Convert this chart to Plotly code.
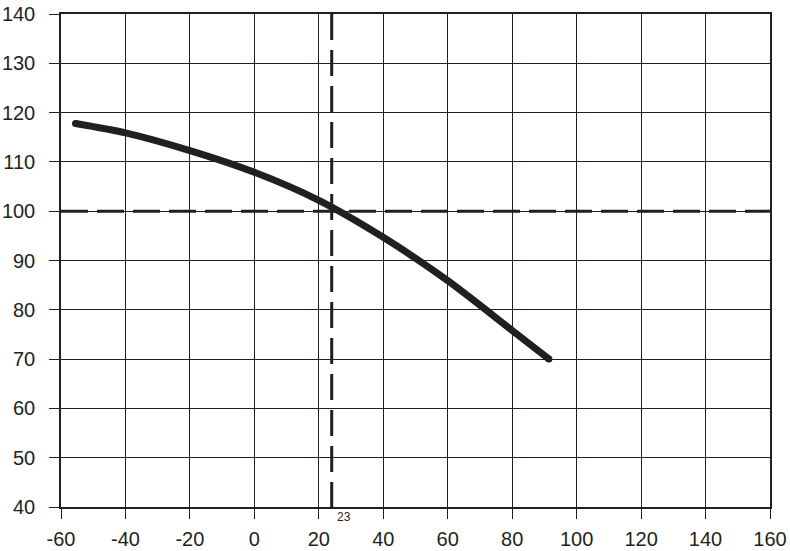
import plotly.graph_objects as go

# Curve
curve_x = [-55.5, -40, -20, 0, 20, 40, 60, 80, 91.4]
curve_y = [117.8, 115.9, 112.3, 107.9, 102.2, 94.7, 85.9, 75.8, 70.0]

# Reference lines
ref_x = 24
ref_y = 100
ref_label = "23"

x_ticks = [-60, -40, -20, 0, 20, 40, 60, 80, 100, 120, 140, 160]
y_ticks = [40, 50, 60, 70, 80, 90, 100, 110, 120, 130, 140]

INK = "#231f20"
FONT = "Liberation Sans, Arial, sans-serif"

fig = go.Figure()

fig.add_trace(go.Scatter(
    x=curve_x,
    y=curve_y,
    mode="lines",
    line=dict(color=INK, width=7, shape="spline", smoothing=0.8),
    hoverinfo="skip",
    showlegend=False,
))
# round caps at the ends
fig.add_trace(go.Scatter(
    x=[curve_x[0], curve_x[-1]],
    y=[curve_y[0], curve_y[-1]],
    mode="markers",
    marker=dict(color=INK, size=7),
    hoverinfo="skip",
    showlegend=False,
))

# dashed reference lines (vertical drawn top-down so the pattern starts at the top)
fig.add_shape(type="line", xref="x", yref="paper", x0=ref_x, x1=ref_x, y0=1, y1=-0.02,
              line=dict(color=INK, width=3, dash="26px,10px"), layer="above")
fig.add_shape(type="line", xref="paper", yref="y", x0=0, x1=1, y0=ref_y, y1=ref_y,
              line=dict(color=INK, width=3, dash="27px,9px"), layer="above")

fig.add_annotation(x=ref_x, y=-0.021, xref="x", yref="paper", text=ref_label,
                   showarrow=False, xanchor="left", yanchor="middle", xshift=3,
                   font=dict(family=FONT, size=12, color=INK))

axis_common = dict(
    showgrid=True, gridcolor=INK, gridwidth=1.4,
    showline=True, linecolor=INK, linewidth=1.5, mirror=True,
    ticks="outside", ticklen=10, tickcolor=INK, tickwidth=1.4,
    zeroline=False, automargin=False,
    tickfont=dict(family=FONT, size=20, color=INK),
)

fig.update_xaxes(range=[-60, 160], tickvals=x_ticks,
                 ticktext=[str(v) for v in x_ticks], ticklabelstandoff=3, **axis_common)
fig.update_yaxes(range=[40, 140], tickvals=y_ticks,
                 ticktext=[str(v) for v in y_ticks], ticklabelstandoff=10, **axis_common)

fig.update_layout(
    width=790,
    height=551,
    margin=dict(l=61, r=20, t=13.5, b=44.3),
    paper_bgcolor="white",
    plot_bgcolor="white",
    showlegend=False,
)

# drop the default page margin so the figure fills the window
fig.write_html("out.html", config={"displayModeBar": False},
               post_script="document.body.style.margin='0';")
